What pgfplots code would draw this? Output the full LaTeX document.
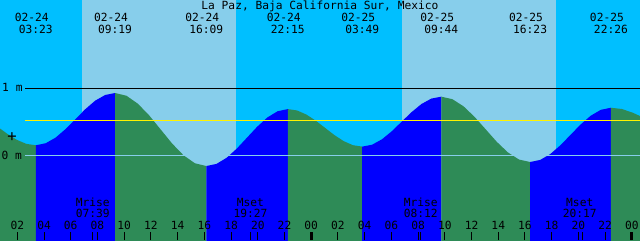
\documentclass[border=0pt]{standalone}
\usepackage{pgfplots}
\pgfplotsset{compat=1.18}
\usepackage{fontspec}
\newfontfamily\mono{DejaVu Sans Mono}
\newcommand\tf{\mono\fontsize{8}{9.6}\selectfont}
\definecolor{night}{RGB}{0,191,255}
\definecolor{day}{RGB}{135,206,235}
\definecolor{ebb}{RGB}{46,139,87}
\definecolor{flood}{RGB}{0,0,255}
\definecolor{zeroline}{RGB}{135,206,235}
\begin{document}
\begin{tikzpicture}
\begin{axis}[
  width=16cm, height=6cm, scale only axis,
  xmin=0.705, xmax=48.61, ymin=-1.264, ymax=2.318,
  axis x line*=bottom, axis y line=none,
  x axis line style={draw=none},
  xtick={2,4,...,48},
  xticklabels={02,04,06,08,10,12,14,16,18,20,22,00,02,04,06,08,10,12,14,16,18,20,22,00},
  extra x ticks={7.65,19.45,32.2,44.283},
  extra x tick labels={},
  tick align=inside, major tick length=5.9pt,
  tick style={black, line width=0.7pt},
  xticklabel style={anchor=base, yshift=7.6pt, font=\tf},
  axis on top,
]
% day / night bands
\addplot[fill=night, draw=none] coordinates {(0.6,-1.4) (0.6,2.4) (6.84,2.4) (6.84,-1.4)} -- cycle;
\addplot[fill=day, draw=none] coordinates {(6.84,-1.4) (6.84,2.4) (18.37,2.4) (18.37,-1.4)} -- cycle;
\addplot[fill=night, draw=none] coordinates {(18.37,-1.4) (18.37,2.4) (30.8,2.4) (30.8,-1.4)} -- cycle;
\addplot[fill=day, draw=none] coordinates {(30.8,-1.4) (30.8,2.4) (42.32,2.4) (42.32,-1.4)} -- cycle;
\addplot[fill=night, draw=none] coordinates {(42.32,-1.4) (42.32,2.4) (48.7,2.4) (48.7,-1.4)} -- cycle;
% tide: falling (ebb) and rising (flood) segments
\addplot[fill=ebb, draw=none] coordinates {(0.6,-1.4) (0.6,0.412) (0.705,0.400) (1.252,0.320) (1.962,0.231) (2.673,0.171) (3.383,0.150) (3.383,-1.4)} -- cycle;
\addplot[fill=flood, draw=none] coordinates {(3.383,-1.4) (3.383,0.150) (4.125,0.180) (4.867,0.264) (5.608,0.391) (6.350,0.540) (7.092,0.689) (7.834,0.816) (8.575,0.900) (9.317,0.930) (9.317,-1.4)} -- cycle;
\addplot[fill=ebb, draw=none] coordinates {(9.317,-1.4) (9.317,0.930) (10.171,0.889) (11.025,0.770) (11.879,0.594) (12.734,0.385) (13.588,0.176) (14.442,0.000) (15.296,-0.119) (16.150,-0.160) (16.150,-1.4)} -- cycle;
\addplot[fill=flood, draw=none] coordinates {(16.150,-1.4) (16.150,-0.160) (16.913,-0.128) (17.675,-0.036) (18.438,0.102) (19.200,0.265) (19.963,0.428) (20.725,0.566) (21.488,0.658) (22.250,0.690) (22.250,-1.4)} -- cycle;
\addplot[fill=ebb, draw=none] coordinates {(22.250,-1.4) (22.250,0.690) (22.946,0.669) (23.642,0.608) (24.337,0.517) (25.033,0.410) (25.729,0.303) (26.425,0.212) (27.121,0.151) (27.817,0.130) (27.817,-1.4)} -- cycle;
\addplot[fill=flood, draw=none] coordinates {(27.817,-1.4) (27.817,0.130) (28.556,0.158) (29.296,0.239) (30.036,0.360) (30.775,0.503) (31.515,0.645) (32.254,0.766) (32.994,0.847) (33.733,0.875) (33.733,-1.4)} -- cycle;
\addplot[fill=ebb, draw=none] coordinates {(33.733,-1.4) (33.733,0.875) (34.564,0.838) (35.396,0.732) (36.227,0.574) (37.058,0.388) (37.889,0.201) (38.721,0.043) (39.552,-0.063) (40.383,-0.100) (40.383,-1.4)} -- cycle;
\addplot[fill=flood, draw=none] coordinates {(40.383,-1.4) (40.383,-0.100) (41.139,-0.069) (41.896,0.019) (42.652,0.150) (43.408,0.305) (44.164,0.460) (44.921,0.591) (45.677,0.679) (46.433,0.710) (46.433,-1.4)} -- cycle;
\addplot[fill=ebb, draw=none] coordinates {(46.433,-1.4) (46.433,0.710) (47.254,0.691) (48.075,0.635) (48.7,0.578) (48.7,-1.4)} -- cycle;
% reference lines
\addplot[black, line width=0.75pt] coordinates {(2.58,1) (48.7,1)};
\addplot[yellow, line width=0.75pt] coordinates {(2.58,0.52) (48.7,0.52)};
\addplot[zeroline, line width=0.75pt] coordinates {(2.58,0) (48.7,0)};
% midnight ticks (thick)
\addplot[black, line width=2.3pt] coordinates {(24,-1.264) (24,-1.14)};
\addplot[black, line width=2.3pt] coordinates {(48,-1.264) (48,-1.14)};
% texts
\node[font=\tf, anchor=base] at (axis cs:24.65,2.169) {La Paz, Baja California Sur, Mexico};
\foreach \t/\d/\h in {3.383/02-24/03:23, 9.317/02-24/09:19, 16.15/02-24/16:09, 22.25/02-24/22:15, 27.817/02-25/03:49, 33.733/02-25/09:44, 40.383/02-25/16:23, 46.433/02-25/22:26}{
  \edef\tmp{\noexpand\node[font=\noexpand\tf, anchor=base] at (axis cs:\t-0.3,2.0) {\d};
    \noexpand\node[font=\noexpand\tf, anchor=base] at (axis cs:\t,1.811) {\h};}
  \tmp
}
\foreach \t/\n/\h in {7.65/Mrise/07:39, 19.45/Mset/19:27, 32.2/Mrise/08:12, 44.1/Mset/20:17}{
  \edef\tmp{\noexpand\node[font=\noexpand\tf, anchor=base] at (axis cs:\t,-0.758) {\n};
    \noexpand\node[font=\noexpand\tf, anchor=base] at (axis cs:\t,-0.931) {\h};}
  \tmp
}
\node[font=\tf, anchor=base west, inner sep=0pt] at (axis cs:0.85,0.949) {1 m};
\node[font=\tf, anchor=base west, inner sep=0pt] at (axis cs:0.80,-0.06) {0 m};
\node[font=\mono\fontsize{11}{12}\selectfont, inner sep=0pt] at (axis cs:1.6,0.27) {+};
\coordinate (sw) at (rel axis cs:0,0);
\coordinate (ne) at (rel axis cs:1,1);
\end{axis}
\pgfresetboundingbox
\path (sw) rectangle (ne);
\end{tikzpicture}
\end{document}
